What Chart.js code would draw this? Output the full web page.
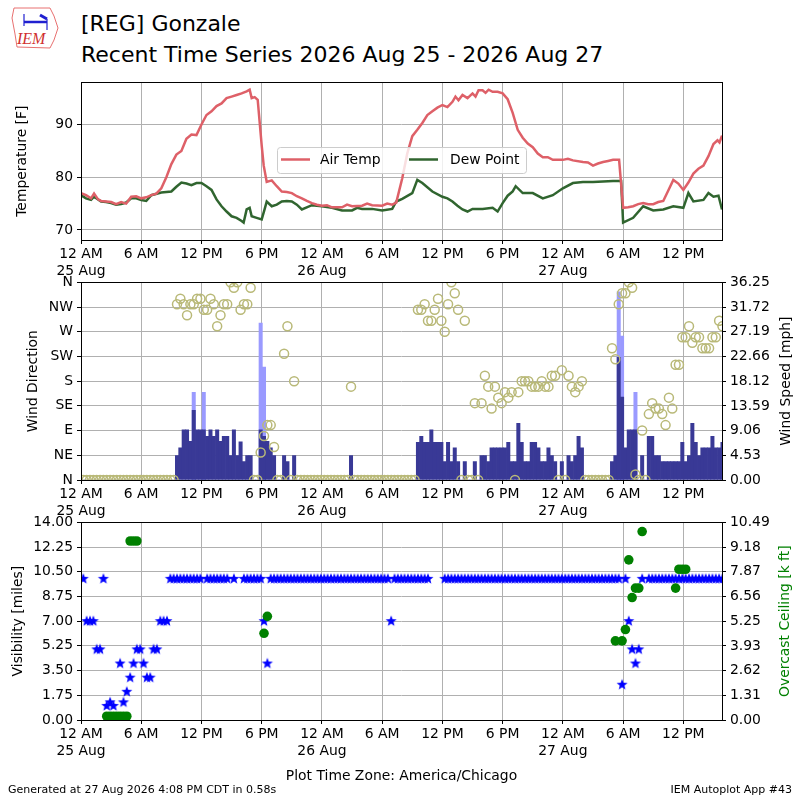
<!DOCTYPE html>
<html>
<head>
<meta charset="utf-8">
<script src="https://cdn.jsdelivr.net/npm/chart.js@4.4.1/dist/chart.umd.min.js"></script>
<style>
body { margin: 0; background: #fff; font-family: 'DejaVu Sans', sans-serif; }
#page { position: relative; width: 800px; height: 800px; overflow: hidden; background: #fff; }
canvas { position: absolute; left: 0; }
.txt { position: absolute; white-space: nowrap; color: #000; line-height: 1; }
</style>
</head>
<body>
<div id="page">
  <svg style="position:absolute;left:10px;top:6px" width="52" height="46" viewBox="0 0 52 46">
    <path d="M4,2 L40,2 L44,10 L48,22 L44,34 L40,42 L7,41 L5,28 L2,12 Z" fill="none" stroke="#e87070" stroke-width="1"/>
    <line x1="14" y1="16" x2="37" y2="16" stroke="#2020d0" stroke-width="2.5"/>
    <line x1="14" y1="8" x2="14" y2="20" stroke="#2020d0" stroke-width="1.2"/>
    <line x1="30" y1="9" x2="37" y2="13" stroke="#2020d0" stroke-width="3"/>
    <line x1="37" y1="13" x2="37" y2="24" stroke="#2020d0" stroke-width="1.2"/>
    <text x="7" y="38" font-family="Liberation Serif" font-style="italic" font-size="16" fill="#d03030">IEM</text>
  </svg>
  <div class="txt" style="left:81px;top:13px;font-size:22px">[REG] Gonzale</div>
  <div class="txt" style="left:81px;top:44px;font-size:22px">Recent Time Series 2026 Aug 25 - 2026 Aug 27</div>
  <canvas id="tempChart" width="800" height="210" style="top:70px"></canvas>
  <canvas id="windChart" width="800" height="250" style="top:270px"></canvas>
  <canvas id="visChart" width="800" height="290" style="top:510px"></canvas>
  <div class="txt" style="left:8px;top:784px;font-size:11px">Generated at 27 Aug 2026 4:08 PM CDT in 0.58s</div>
  <div class="txt" style="right:8px;top:784px;font-size:11px">IEM Autoplot App #43</div>
</div>
<script>
// hours since 12 AM 25 Aug (America/Chicago)
const xTickHours = [0, 6, 12, 18, 24, 30, 36, 42, 48, 54, 60];
const xTickLabels = [["12 AM", "25 Aug"], "6 AM", "12 PM", "6 PM", ["12 AM", "26 Aug"], "6 AM", "12 PM", "6 PM", ["12 AM", "27 Aug"], "6 AM", "12 PM"];
const xMax = 63.85;

// temperature panel
const tempHours = [0,0.5,1,1.3,1.7,2,3,3.5,4,4.5,5,5.5,6,6.5,7,7.5,8,8.5,9,9.5,10,10.5,11,11.5,12,12.5,13,13.5,14,14.5,15,15.5,16,16.5,16.8,17,17.3,17.6,18,18.2,18.5,19,19.5,20,20.5,21,21.5,22,22.5,23,23.5,24,24.5,25,26,26.5,27,28,28.5,29,30,30.5,31,31.4,32,32.5,33,33.5,34,34.5,35,35.5,36,36.5,37,37.3,37.6,38,38.5,39,39.3,39.6,40,40.3,40.6,41,41.5,42,42.5,43,43.5,44,44.5,45,45.5,46,46.5,47,48,48.5,49,50,50.5,51,51.5,52,52.5,53,53.6,54,54.5,55,55.5,56,56.5,57,57.5,58,58.5,59,59.5,60,60.5,61,61.5,62,62.5,63,63.4,63.6,63.85];
const airTemp = [77.0,76.6,76.0,76.9,75.8,75.5,75.3,74.9,75.3,75.0,76.3,76.4,76.0,76.2,76.6,76.9,77.9,80.0,82.5,84.3,85.0,87.3,88.1,88.0,90.0,91.8,92.5,93.5,94.0,95.0,95.3,95.6,95.9,96.3,96.6,95.0,95.2,94.7,86.0,82.2,79.1,79.4,78.3,77.3,77.2,77.0,76.4,76.0,75.5,75.1,74.8,74.6,74.7,74.3,74.3,74.8,74.5,74.6,75.0,74.7,74.6,75.0,74.8,75.2,79.8,84.5,87.8,89.0,90.3,91.8,92.5,93.2,93.7,93.3,94.3,95.3,94.6,95.6,95.0,95.9,95.3,96.5,96.5,96.0,96.6,96.2,96.2,95.9,94.8,92.2,89.0,87.5,86.4,85.7,84.5,83.8,83.8,83.3,83.3,83.5,83.2,82.9,82.8,82.2,82.6,82.9,83.1,83.3,83.3,74.2,74.3,74.5,74.9,75.1,74.9,74.9,75.3,75.5,77.5,79.5,78.8,77.6,79.0,80.7,81.6,82.2,84.0,86.3,87.0,86.6,87.9];
const dewHours = [0,0.5,1,1.3,2,2.5,3,3.5,4,4.5,5,5.5,6,6.5,7,8,9,9.5,10,10.5,11,11.5,12,12.5,13,13.5,14,14.5,15,15.5,16,16.2,16.5,16.8,17,17.5,18,18.3,18.5,19,19.5,20,20.5,21,21.5,22,23,24,25,26,27,27.5,28,29,30,31,31.4,32,33,33.5,34,35,36,36.5,37,37.5,38,38.5,39,40,41,41.5,42,42.5,43,43.3,44,45,46,47,48,49,50,51,52,53,53.8,54,55,56,57,58,59,60,60.5,61,62,62.5,63,63.5,63.85];
const dewPoint = [76.6,76.0,75.7,76.3,75.4,75.3,75.1,74.8,74.9,75.2,76.0,76.0,75.7,75.5,76.6,77.1,77.3,78.2,79.0,78.8,78.5,78.9,78.9,78.3,77.6,75.8,74.5,73.5,72.6,72.3,71.7,71.4,73.9,74.2,72.6,72.3,72.0,74.0,75.4,74.5,74.8,75.4,75.5,75.4,74.8,73.9,74.7,74.5,74.2,73.7,73.7,74.2,74.0,74.0,73.7,74.0,75.4,75.9,77.0,79.5,78.9,77.3,76.3,76.0,75.4,74.6,73.9,73.5,74.0,74.0,74.2,73.5,75.1,76.5,77.3,78.3,77.0,77.0,76.0,76.6,77.9,78.9,79.1,79.1,79.2,79.3,79.3,71.4,72.3,74.5,73.7,73.9,74.5,74.2,77.0,75.4,75.7,77.0,76.3,76.5,73.9];

// 20 minute observations (index i -> obsStart + i/3 hours)
const obsStart = 0.23;
const windSpeed = [
  0,0,0,0,0,0,0,0,0,0,0,0,
  0,0,0,0,0,0,0,0,0,0,0,0,
  0,0,0,0,4.5,5.9,9.2,9.2,7.1,12.8,9.2,9.2,
  9.2,8.0,9.2,8.0,9.2,7.1,8.0,8.0,4.5,9.2,4.5,7.0,
  3.4,4.5,4.5,0,0,9.2,8.0,7.1,5.9,4.5,0,0,
  4.5,3.4,0,4.5,0,0,0,0,0,0,0,0,
  0,0,0,0,0,0,0,0,4.5,0,0,0,
  0,0,0,0,0,0,0,0,0,0,0,0,
  0,0,0,0,6.9,8.0,6.9,6.9,9.2,6.9,6.9,6.9,
  3.4,6.9,3.4,5.9,3.4,0,3.4,0,0,3.4,0,4.5,
  4.5,3.4,5.9,5.9,5.9,5.9,5.9,6.9,3.4,3.4,10.4,6.9,
  3.4,3.4,6.9,6.9,5.9,3.4,3.4,5.9,4.5,3.4,0,3.4,
  0,4.5,3.4,4.5,8.0,5.9,0,0,0,0,0,0,
  0,0,3.4,4.5,22.5,15.2,5.9,9.2,9.2,9.2,0,4.5,
  0,8.0,8.0,4.5,4.5,3.4,3.4,3.4,3.4,3.4,3.4,6.9,
  3.4,4.5,10.4,6.9,4.5,5.9,5.9,5.9,8.0,5.9,5.9,6.9
];
const gustIndex = [33, 36, 53, 54, 160, 161, 165];
const gustValue = [16.1, 16.1, 28.8, 20.7, 34.5, 26.4, 16.1];
const windDir = [
  0,0,0,0,0,0,0,0,0,0,0,0,
  0,0,0,0,0,0,0,0,0,0,0,0,
  0,0,0,0,320,330,320,300,320,320,330,330,
  310,310,330,320,280,300,320,320,360,350,360,310,
  320,320,350,0,0,50,80,100,100,60,0,0,
  230,280,0,180,0,0,0,0,0,0,0,0,
  0,0,0,0,0,0,0,0,170,0,0,0,
  0,0,0,0,0,0,0,0,0,0,0,0,
  0,0,0,0,310,310,320,290,290,310,330,290,
  270,320,360,340,310,0,290,0,0,140,0,140,
  190,170,130,170,150,140,160,150,160,0,160,180,
  180,180,170,170,170,180,170,170,190,190,0,200,
  0,190,170,160,170,180,0,0,0,0,0,0,
  0,0,240,220,320,340,340,360,350,10,0,90,
  0,120,140,130,130,120,100,150,130,210,210,260,
  260,280,250,260,260,240,240,240,260,260,290,280
];
const visibility = [
  10,7,7,7,5,5,10,1,1.25,1,null,4,
  1.25,2,3,4,5,5,4,3,3,5,5,7,
  7,7,10,10,10,10,10,10,10,10,10,10,
  null,10,10,10,10,10,10,10,null,10,null,null,
  10,10,10,10,10,10,7,4,10,10,10,10,
  10,10,10,10,10,10,10,10,10,10,10,10,
  10,10,10,10,10,10,10,10,10,10,10,10,
  10,10,10,10,10,10,10,10,7,10,10,10,
  10,10,10,10,10,10,10,10,null,null,null,null,
  10,10,10,10,10,10,10,10,10,10,10,10,
  10,10,10,10,10,10,10,10,10,10,10,10,
  10,10,10,10,10,10,10,10,10,10,10,10,
  10,10,10,10,10,10,10,10,10,10,10,10,
  10,10,10,10,10,2.5,10,7,5,4,5,10,
  null,10,10,10,10,10,10,10,10,10,10,10,
  10,10,10,10,10,10,10,10,10,10,10,10
];
const ceilIndex = [7,8,9,10,11,12,13,14,15,16,54,55,159,161,162,163,164,165,166,167,177,178,179,180];
const ceilValue = [0.2,0.2,0.2,0.2,0.2,0.2,0.2,9.5,9.5,9.5,4.6,5.5,4.2,4.2,4.8,8.5,6.5,7.0,7.0,10.0,7.0,8.0,8.0,8.0];

const tempTicks = [70, 80, 90];
const dirTicks = [0, 45, 90, 135, 180, 225, 270, 315, 360];
const dirLabels = ["N", "NE", "E", "SE", "S", "SW", "W", "NW", "N"];
const windTickLabels = ["0.00", "4.53", "9.06", "13.59", "18.12", "22.66", "27.19", "31.72", "36.25"];
const visTicks = [0, 1.75, 3.5, 5.25, 7, 8.75, 10.5, 12.25, 14];
const ceilTickLabels = ["0.00", "1.31", "2.62", "3.93", "5.25", "6.56", "7.87", "9.18", "10.49"];

const obsTime = i => obsStart + i / 3;
const gridColor = '#b0b0b0';
Chart.defaults.font.family = "'DejaVu Sans', sans-serif";
Chart.defaults.font.size = 13.9;
Chart.defaults.color = '#000';

function xAxis(height, title) {
  let ax = {
    type: 'linear', min: 0, max: xMax, offset: false,
    grid: { color: gridColor, lineWidth: 1, offset: false, tickLength: 4, tickColor: '#000' },
    border: { display: false },
    afterBuildTicks: s => { s.ticks = xTickHours.map(v => ({ value: v })); },
    afterFit: s => { s.height = height; },
    ticks: { autoSkip: false, maxRotation: 0, minRotation: 0, padding: 2, callback: (v, i) => xTickLabels[i] }
  };
  if (title) ax.title = { display: true, text: title, padding: { top: 0, bottom: 15 } };
  return ax;
}

function yAxis(pos, min, max, tickVals, labels, width, onArea) {
  return {
    type: 'linear', position: pos, min: min, max: max,
    grid: { color: gridColor, lineWidth: 1, tickLength: 4, tickColor: '#000', drawOnChartArea: onArea },
    border: { display: false },
    afterBuildTicks: s => { s.ticks = tickVals.map(v => ({ value: v })); },
    afterFit: s => { s.width = width; },
    ticks: { autoSkip: false, padding: 4, callback: (v, i) => labels[i] }
  };
}

// black box round each plot
const frame = {
  id: 'frame',
  afterDraw(chart) {
    const a = chart.chartArea, ctx = chart.ctx;
    ctx.save();
    ctx.strokeStyle = '#000';
    ctx.lineWidth = 1;
    ctx.strokeRect(Math.round(a.left) + 0.5, Math.round(a.top) + 0.5, Math.round(a.right - a.left), Math.round(a.bottom - a.top));
    ctx.restore();
  }
};

// rotated y titles, reading bottom to top like matplotlib
function sideTitles(list) {
  return {
    id: 'sideTitles',
    afterDraw(chart) {
      const a = chart.chartArea, ctx = chart.ctx;
      list.forEach(t => {
        ctx.save();
        ctx.translate(t.x, (a.top + a.bottom) / 2);
        ctx.rotate(-Math.PI / 2);
        ctx.font = "13.9px 'DejaVu Sans', sans-serif";
        ctx.fillStyle = t.color || '#000';
        ctx.textAlign = 'center';
        ctx.textBaseline = 'middle';
        ctx.fillText(t.text, 0, 0);
        ctx.restore();
      });
    }
  };
}

const tempLegend = {
  id: 'tempLegend',
  afterDraw(chart) {
    const ctx = chart.ctx;
    const ds = chart.data.datasets;
    ctx.save();
    ctx.beginPath();
    ctx.roundRect(277.5, 77.5, 249, 26, 3);
    ctx.fillStyle = 'rgba(255,255,255,0.8)';
    ctx.fill();
    ctx.strokeStyle = '#cccccc';
    ctx.lineWidth = 1;
    ctx.stroke();
    const items = [{ x: 281, tx: 320 }, { x: 409, tx: 450 }];
    ctx.font = "13.9px 'DejaVu Sans', sans-serif";
    ctx.textBaseline = 'middle';
    items.forEach((it, i) => {
      ctx.strokeStyle = ds[i].borderColor;
      ctx.lineWidth = 2.5;
      ctx.beginPath();
      ctx.moveTo(it.x, 89.5);
      ctx.lineTo(it.x + 29, 89.5);
      ctx.stroke();
      ctx.fillStyle = '#000';
      ctx.fillText(ds[i].label, it.tx, 90);
    });
    ctx.restore();
  }
};

function makeStar(color, r) {
  const c = document.createElement('canvas');
  const s = Math.ceil(r * 2) + 2;
  c.width = s; c.height = s;
  const g = c.getContext('2d');
  g.fillStyle = color;
  g.beginPath();
  for (let k = 0; k < 10; k++) {
    const rad = k % 2 ? r * 0.42 : r;
    const ang = -Math.PI / 2 + k * Math.PI / 5;
    g.lineTo(s / 2 + rad * Math.cos(ang), s / 2 + rad * Math.sin(ang));
  }
  g.closePath();
  g.fill();
  return c;
}

const common = { responsive: false, animation: false, devicePixelRatio: 1,
  plugins: { legend: { display: false }, tooltip: { enabled: false } } };

new Chart('tempChart', {
  type: 'line',
  data: {
    datasets: [
      { label: 'Air Temp', data: tempHours.map((h, i) => ({ x: h, y: airTemp[i] })), borderColor: '#de6068', borderWidth: 2.5, pointRadius: 0, tension: 0 },
      { label: 'Dew Point', data: dewHours.map((h, i) => ({ x: h, y: dewPoint[i] })), borderColor: '#30652f', borderWidth: 2.5, pointRadius: 0, tension: 0 }
    ]
  },
  options: Object.assign({}, common, {
    layout: { padding: { top: 10, right: 78, left: 0, bottom: 0 } },
    scales: {
      x: xAxis(40),
      y: yAxis('left', 68.1, 98.0, tempTicks, tempTicks.map(String), 81, true)
    }
  }),
  plugins: [frame, tempLegend, sideTitles([{ text: 'Temperature [F]', x: 22 }])]
});

new Chart('windChart', {
  type: 'bar',
  data: {
    datasets: [
      { type: 'scatter', label: 'Wind Direction', data: windDir.map((d, i) => ({ x: obsTime(i), y: d })), yAxisID: 'y',
        pointStyle: 'circle', pointRadius: 4.5, borderColor: '#b9b978', backgroundColor: 'rgba(0,0,0,0)', borderWidth: 1.5, order: 1, clip: 0 },
      { type: 'bar', label: 'Wind Speed', data: windSpeed.map((v, i) => ({ x: obsTime(i), y: v })), yAxisID: 'y1',
        backgroundColor: '#393996', grouped: false, barPercentage: 1, categoryPercentage: 1, borderWidth: 0, order: 2 },
      { type: 'bar', label: 'Wind Gust', data: gustIndex.map((k, j) => ({ x: obsTime(k), y: gustValue[j] })), yAxisID: 'y1',
        backgroundColor: '#9a9aff', grouped: false, barPercentage: 1, categoryPercentage: 1, borderWidth: 0, order: 3 }
    ]
  },
  options: Object.assign({}, common, {
    layout: { padding: { top: 10, right: 0, left: 0, bottom: 0 } },
    scales: {
      x: xAxis(40),
      y: yAxis('left', 0, 360, dirTicks, dirLabels, 81, true),
      y1: yAxis('right', 0, 36.25, windTickLabels.map(Number), windTickLabels, 78, false)
    }
  }),
  plugins: [frame, sideTitles([{ text: 'Wind Direction', x: 33 }, { text: 'Wind Speed [mph]', x: 786 }])]
});

new Chart('visChart', {
  type: 'scatter',
  data: {
    datasets: [
      { label: 'Visibility', data: visibility.map((v, i) => ({ x: obsTime(i), y: v })), yAxisID: 'y',
        pointStyle: makeStar('#0000ff', 5.8), order: 2 },
      { label: 'Overcast Ceiling', data: ceilIndex.map((k, j) => ({ x: obsTime(k), y: ceilValue[j] })), yAxisID: 'y1',
        pointStyle: 'circle', pointRadius: 4.8, backgroundColor: '#008000', borderWidth: 0, order: 1 }
    ]
  },
  options: Object.assign({}, common, {
    layout: { padding: { top: 10, right: 0, left: 0, bottom: 0 } },
    scales: {
      x: xAxis(80, 'Plot Time Zone: America/Chicago'),
      y: yAxis('left', 0, 14, visTicks, visTicks.map(v => v.toFixed(2)), 81, true),
      y1: yAxis('right', 0, 10.49, ceilTickLabels.map(Number), ceilTickLabels, 78, false)
    }
  }),
  plugins: [frame, sideTitles([{ text: 'Visibility [miles]', x: 18 }, { text: 'Overcast Ceiling [k ft]', x: 785, color: '#008000' }])]
});
</script>
</body>
</html>
